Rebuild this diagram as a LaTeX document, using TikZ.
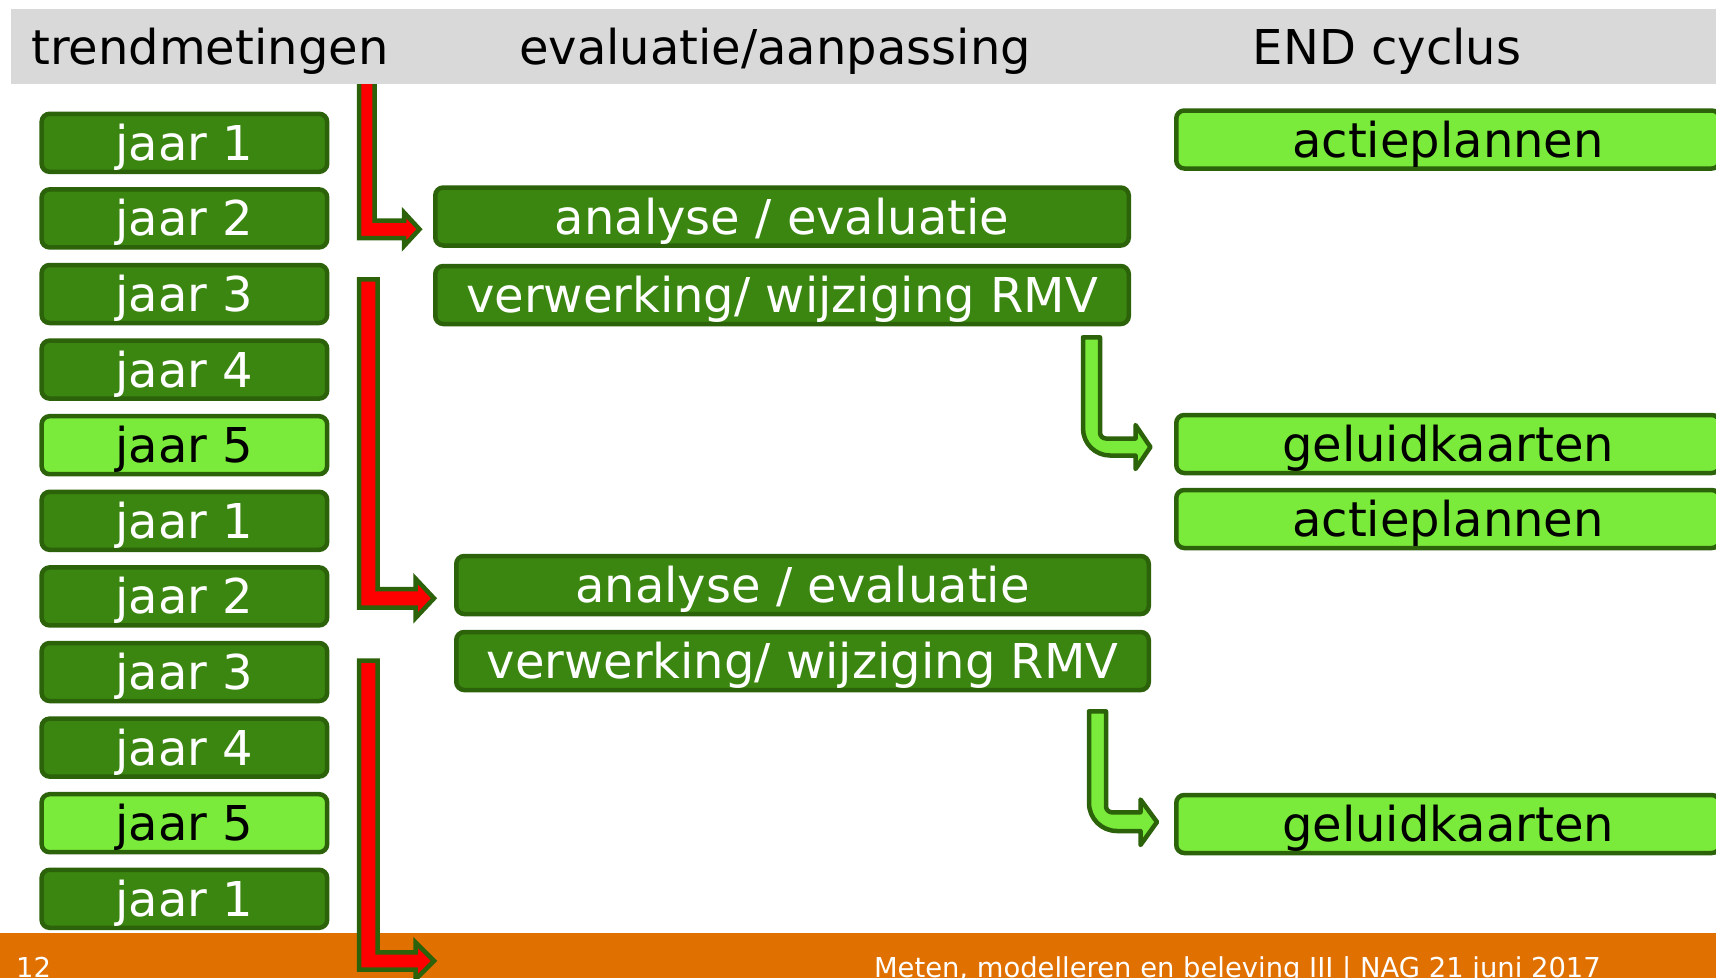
\documentclass[tikz,border=0pt]{standalone}
\usepackage{fontspec}
\setmainfont{DejaVu Sans}
\definecolor{dkfill}{RGB}{58,134,16}
\definecolor{dkline}{RGB}{44,98,10}
\definecolor{ltfill}{RGB}{122,235,58}
\definecolor{hdrgray}{RGB}{217,217,217}
\definecolor{footor}{RGB}{224,112,0}
\newcommand\bigtxt{\fontsize{48}{56}\selectfont}
\newcommand\smalltxt{\fontsize{27.4}{32}\selectfont}
\begin{document}
\begin{tikzpicture}[x=1pt,y=-1pt,
 mybox/.style={draw=dkline,line width=4.5pt,rounded corners=8pt,inner sep=0pt,font=\bigtxt,text height=35pt,text depth=0pt,minimum height=58pt},
 darkbox/.style={mybox,fill=dkfill,text=white},
 lightbox/.style={mybox,fill=ltfill,text=black},
 yearbox/.style={minimum width=285.5pt},
 redarrow/.style={fill=red,draw=dkline,line width=4.5pt},
 greenarrow/.style={fill=ltfill,draw=dkline,line width=4.5pt,line join=round},
 hdr/.style={font=\bigtxt,anchor=base,inner sep=0pt},
 foot/.style={font=\smalltxt,text=white,inner sep=0pt}]
\useasboundingbox (0,0) rectangle (1716,978);
\clip (0,0) rectangle (1716,978);
\fill[white] (0,0) rectangle (1716,978);
% first red arrow (under header)
\draw[redarrow] (359,80) -- (359,238) -- (404,238) -- (404,246) -- (419.5,229.25) -- (404,212.5) -- (404,220.5) -- (374.5,220.5) -- (374.5,80) -- cycle;
% header
\fill[hdrgray] (11,9) rectangle (1716,84);
\node[hdr,anchor=base west] (h1) at (31,64) {trendmetingen};
\node[hdr] (h2) at (775,64) {evaluatie/aanpassing};
\node[hdr] (h3) at (1387,64) {END cyclus};
% footer
\fill[footor] (0,933) rectangle (1716,978);
\node[foot,anchor=base west] (pg) at (16,977) {12};
\node[foot,anchor=base east] (ft) at (1601,977) {Meten, modelleren en beleving III | NAG 21 juni 2017};
% red arrows
\draw[redarrow] (359,279.3) -- (359,607.7) -- (415.5,607.7) -- (415.5,618) -- (434,598.3) -- (415.5,578.6) -- (415.5,589) -- (377.7,589) -- (377.7,279.3) -- cycle;
\draw[redarrow] (359,660.5) -- (359,969.5) -- (415.5,969.5) -- (415.5,979.5) -- (434,960.9) -- (415.5,942.3) -- (415.5,952.3) -- (377.7,952.3) -- (377.7,660.5) -- cycle;
% year boxes
\foreach \i/\t/\s in {0/1/darkbox,1/2/darkbox,2/3/darkbox,3/4/darkbox,4/5/lightbox,5/1/darkbox,6/2/darkbox,7/3/darkbox,8/4/darkbox,9/5/lightbox,10/1/darkbox}
  \node[\s,yearbox] (y\i) at (184.4,{142.8+75.6*\i}) {jaar \t};
% middle boxes
\node[darkbox,minimum width=693.5pt] (ana1) at (782,216.5) {analyse / evaluatie};
\node[darkbox,minimum width=693.5pt] (ver1) at (782,295) {verwerking/ wijziging RMV};
\node[darkbox,minimum width=692.5pt] (ana2) at (802.5,585) {analyse / evaluatie};
\node[darkbox,minimum width=692.5pt] (ver2) at (802.5,661) {verwerking/ wijziging RMV};
% right boxes
\node[lightbox,minimum width=543.5pt] (act1) at (1448,139.5) {actieplannen};
\node[lightbox,minimum width=543.5pt] (geo1) at (1448,444) {geluidkaarten};
\node[lightbox,minimum width=543.5pt] (act2) at (1448,519) {actieplannen};
\node[lightbox,minimum width=543.5pt] (geo2) at (1448,824) {geluidkaarten};
% green arrows
\draw[greenarrow] (1100,337.3) -- (1100,432.5) .. controls (1100,435.8) and (1102.7,438.5) .. (1106,438.5) -- (1135.5,438.5) -- (1135.5,425) -- (1150.4,447) -- (1135.5,469) -- (1135.5,455.5) -- (1110,455.5) .. controls (1095.1,455.5) and (1083,443.4) .. (1083,428.5) -- (1083,337.3) -- cycle;
\draw[greenarrow] (1106,711.3) -- (1106,806.3) .. controls (1106,809.6) and (1108.7,812.3) .. (1112,812.3) -- (1140.5,812.3) -- (1140.5,799.5) -- (1157,822) -- (1140.5,845) -- (1140.5,831) -- (1117,831) .. controls (1101.5,831) and (1089,818.5) .. (1089,803) -- (1089,711.3) -- cycle;
\end{tikzpicture}
\end{document}
